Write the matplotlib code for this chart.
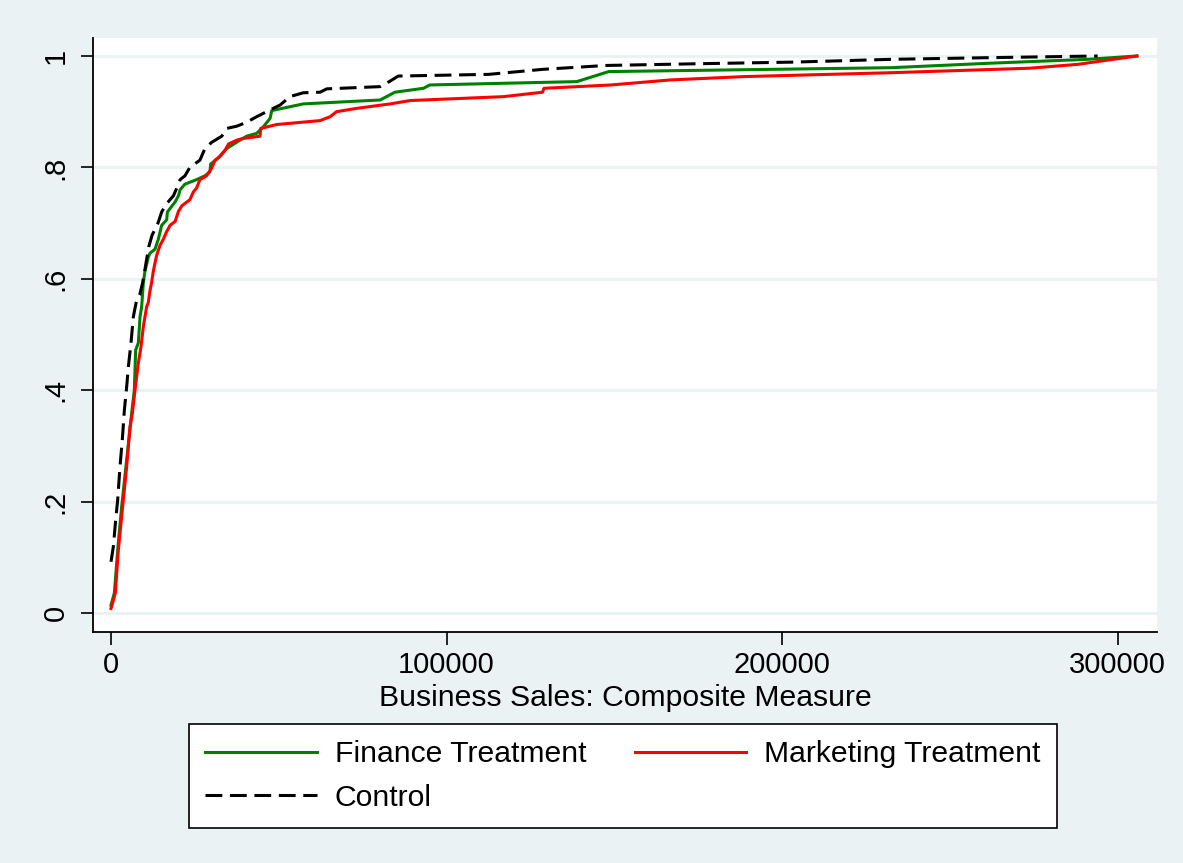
import matplotlib
matplotlib.use("Agg")
import matplotlib.pyplot as plt

plt.rcParams['font.family'] = ['Liberation Sans', 'DejaVu Sans']

# ---- data ----
finance_x = [0, 1000, 2150, 3180, 4670, 6160, 6950, 7350, 8150, 8650, 9140, 9630,
             10130, 11130, 11620, 13100, 14100, 15100, 16600, 16800, 19100, 20100,
             20600, 22050, 25500, 28000, 29500, 29700, 32000, 34500, 38450, 40400,
             43400, 45400, 47400, 47900, 57300, 80200, 84600, 93100, 95000, 138800,
             148300, 232500, 261700, 291000, 305700]
finance_y = [0.014, 0.036, 0.124, 0.191, 0.275, 0.359, 0.400, 0.472, 0.485, 0.532,
             0.550, 0.593, 0.614, 0.639, 0.646, 0.653, 0.671, 0.696, 0.706, 0.720,
             0.738, 0.749, 0.760, 0.770, 0.778, 0.785, 0.792, 0.806, 0.817, 0.834,
             0.849, 0.856, 0.861, 0.873, 0.888, 0.902, 0.914, 0.921, 0.935, 0.942,
             0.948, 0.954, 0.972, 0.979, 0.987, 0.994, 1.000]

marketing_x = [0, 1300, 2180, 3670, 4670, 5660, 6360, 7150, 8150, 8940, 9630, 10630,
               11100, 11620, 12100, 12620, 13100, 13600, 14600, 15600, 16600, 17600,
               19100, 20100, 21100, 23500, 24550, 25500, 26500, 28500, 30000, 31000,
               32500, 34000, 35000, 37500, 39400, 44400, 44600, 49400, 62300, 65300,
               67200, 73200, 83200, 89100, 116900, 128600, 129000, 149000, 166600,
               188600, 232500, 273500, 288100, 305700]
marketing_y = [0.008, 0.036, 0.113, 0.203, 0.263, 0.334, 0.358, 0.400, 0.449, 0.478,
               0.514, 0.550, 0.557, 0.579, 0.593, 0.614, 0.628, 0.642, 0.660, 0.671,
               0.685, 0.696, 0.703, 0.721, 0.731, 0.742, 0.756, 0.763, 0.778, 0.785,
               0.799, 0.813, 0.820, 0.831, 0.842, 0.849, 0.852, 0.856, 0.870, 0.877,
               0.884, 0.891, 0.900, 0.906, 0.914, 0.920, 0.927, 0.935, 0.942, 0.948,
               0.957, 0.963, 0.970, 0.978, 0.985, 1.000]

control_x = [0, 700, 1390, 1990, 2680, 3370, 3980, 4670, 5170, 5960, 6660, 7250,
             7650, 8540, 9430, 10230, 11230, 12220, 14000, 15100, 16600, 18600, 19600,
             20600, 22050, 23500, 26500, 28000, 30000, 33000, 34500, 37500, 40400,
             43400, 48000, 50400, 53300, 57300, 62300, 64300, 80200, 83200, 85600,
             112500, 128600, 147500, 174000, 203200, 232500, 261700, 294000]
control_y = [0.092, 0.119, 0.167, 0.203, 0.263, 0.311, 0.364, 0.406, 0.442, 0.485,
             0.532, 0.550, 0.562, 0.571, 0.593, 0.621, 0.657, 0.678, 0.700, 0.720,
             0.735, 0.749, 0.763, 0.778, 0.785, 0.800, 0.813, 0.834, 0.845, 0.856,
             0.870, 0.874, 0.881, 0.891, 0.905, 0.912, 0.927, 0.934, 0.935, 0.941,
             0.945, 0.955, 0.964, 0.967, 0.976, 0.983, 0.986, 0.989, 0.994, 0.997,
             1.000]

x_ticks = [0, 100000, 200000, 300000]
x_tick_labels = ["0", "100000", "200000", "300000"]
y_ticks = [0, 0.2, 0.4, 0.6, 0.8, 1.0]
y_tick_labels = ["0", ".2", ".4", ".6", ".8", "1"]
x_title = "Business Sales: Composite Measure"
series_labels = ["Finance Treatment", "Marketing Treatment", "Control"]

# ---- figure ----
W, H = 1183, 863
bg = "#EAF2F3"
fig = plt.figure(figsize=(W / 100, H / 100), dpi=100, facecolor=bg)
ax = fig.add_axes([93 / W, 1 - 632 / H, (1157 - 93) / W, (632 - 38) / H])
ax.set_facecolor("white")

fs_tick = 21
fs_text = 21.7

ax.set_xlim(-5364, 311680)
ax.set_ylim(-0.0341, 1.0323)

for y in y_ticks:
    ax.axhline(y, color=bg, lw=2.2, zorder=0)

lw = 2.2
l_fin, = ax.plot(finance_x, finance_y, color="#008000", lw=lw, label=series_labels[0])
l_mkt, = ax.plot(marketing_x, marketing_y, color="#FF0000", lw=lw, label=series_labels[1])
l_ctl, = ax.plot(control_x, control_y, color="black", lw=lw, dashes=(5.5, 2.5),
                 label=series_labels[2])

ax.set_xticks(x_ticks)
ax.set_xticklabels(x_tick_labels, fontsize=fs_tick)
ax.set_yticks(y_ticks)
ax.set_yticklabels(y_tick_labels, fontsize=fs_tick, rotation=90, va="center")
ax.tick_params(axis="both", direction="out", length=9, width=1.2, color="black")
ax.tick_params(axis="x", pad=5)
ax.tick_params(axis="y", pad=8)

for s in ["top", "right"]:
    ax.spines[s].set_visible(False)
for s in ["left", "bottom"]:
    ax.spines[s].set_linewidth(1.3)
    ax.spines[s].set_color("black")

ax.set_xlabel(x_title, fontsize=fs_text, labelpad=3.5)

leg = fig.legend([l_fin, l_ctl, l_mkt],
                 [series_labels[0], series_labels[2], series_labels[1]],
                 ncol=2, loc="center",
                 bbox_to_anchor=(623 / W, 1 - 776 / H),
                 fontsize=fs_text, frameon=True, fancybox=False,
                 edgecolor="black", facecolor="white", framealpha=1,
                 handlelength=3.7, handletextpad=0.6, borderpad=0.55,
                 labelspacing=0.52, columnspacing=1.6)
leg.get_frame().set_linewidth(1.2)

fig.savefig("out.png", dpi=100, facecolor=bg)
